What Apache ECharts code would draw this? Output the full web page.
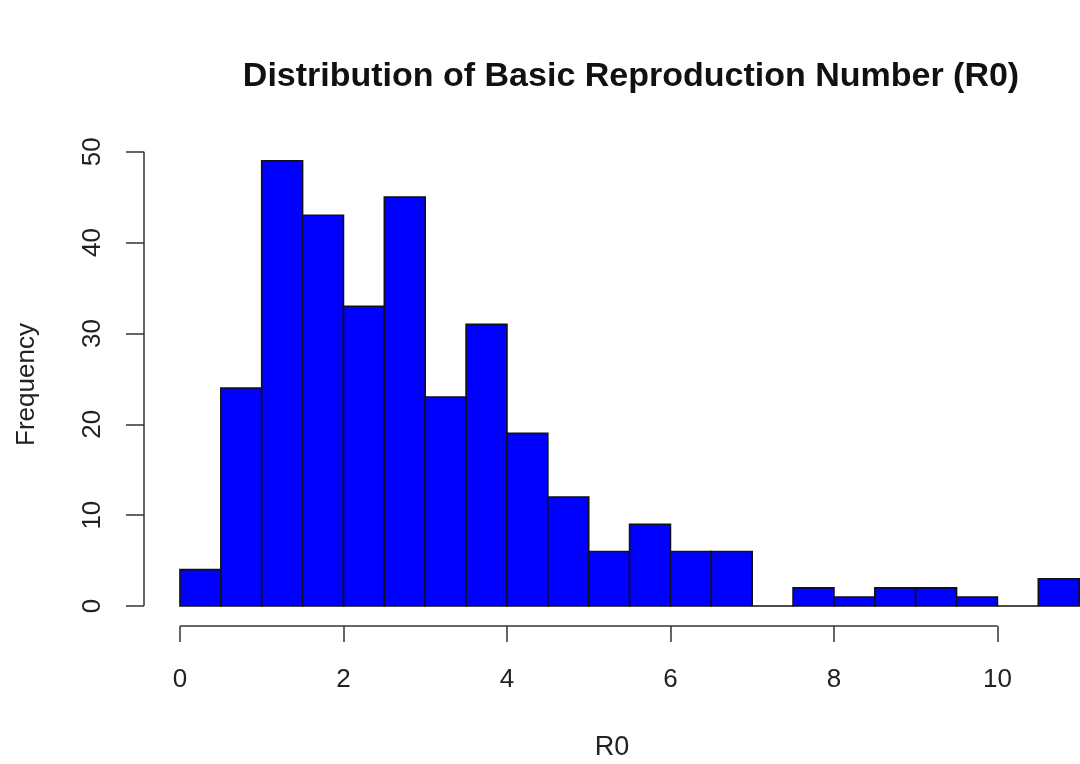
<!DOCTYPE html>
<html>
<head>
<meta charset="utf-8">
<script src="https://cdn.jsdelivr.net/npm/echarts@6/dist/echarts.min.js"></script>
<style>
html,body{margin:0;padding:0;background:#fff;}
#chart{width:1080px;height:764px;}
</style>
</head>
<body>
<div id="chart"></div>
<script>
// Histogram bin edges (R0) and counts
const binStarts = [0, 0.5, 1, 1.5, 2, 2.5, 3, 3.5, 4, 4.5, 5, 5.5, 6, 6.5, 7, 7.5, 8, 8.5, 9, 9.5, 10, 10.5];
const binEnds   = [0.5, 1, 1.5, 2, 2.5, 3, 3.5, 4, 4.5, 5, 5.5, 6, 6.5, 7, 7.5, 8, 8.5, 9, 9.5, 10, 10.5, 11];
const counts    = [4, 24, 49, 43, 33, 45, 23, 31, 19, 12, 6, 9, 6, 6, 0, 2, 1, 2, 2, 1, 0, 3];
const xTicks = [0, 2, 4, 6, 8, 10];
const yTicks = [0, 10, 20, 30, 40, 50];
const titleText = 'Distribution of Basic Reproduction Number (R0)';
const xName = 'R0';
const yName = 'Frequency';

const binData = binStarts.map((s, i) => [s, binEnds[i], counts[i]]);

const FONT = '"Liberation Sans", Arial, sans-serif';
const AXIS_COLOR = '#333';
const TEXT_COLOR = '#222';

const chart = echarts.init(document.getElementById('chart'), null, {renderer: 'canvas'});
chart.setOption({
  backgroundColor: '#fff',
  animation: false,
  title: {
    text: titleText,
    left: 626,
    top: 55,
    textAlign: 'center',
    textStyle: {fontFamily: FONT, fontSize: 34, fontWeight: 'bold', color: '#111'}
  },
  grid: {left: 144, top: 143, right: 0, height: 483, containLabel: false, outerBoundsMode: 'none'},
  xAxis: {
    type: 'value',
    min: -0.44,
    max: 11.01,
    name: xName,
    nameLocation: 'middle',
    nameGap: 108,
    nameTextStyle: {fontFamily: FONT, fontSize: 27, color: TEXT_COLOR},
    axisLine: {show: false, onZero: false},
    axisTick: {show: true, length: 16, customValues: xTicks, lineStyle: {color: AXIS_COLOR, width: 1.5}},
    axisLabel: {customValues: xTicks, margin: 41, fontFamily: FONT, fontSize: 26, color: TEXT_COLOR},
    splitLine: {show: false}
  },
  yAxis: {
    type: 'value',
    min: -2.2,
    max: 50.96,
    name: yName,
    nameLocation: 'middle',
    nameRotate: 90,
    nameGap: 104,
    nameTextStyle: {fontFamily: FONT, fontSize: 26, color: TEXT_COLOR},
    axisLine: {show: false, onZero: false},
    axisTick: {show: true, length: 18, customValues: yTicks, lineStyle: {color: AXIS_COLOR, width: 1.5}},
    axisLabel: {customValues: yTicks, rotate: 90, margin: 38, fontFamily: FONT, fontSize: 26, color: TEXT_COLOR},
    splitLine: {show: false}
  },
  series: [
    {
      type: 'custom',
      name: 'bins',
      data: binData,
      encode: {x: [0, 1], y: 2},
      clip: false,
      renderItem: function (params, api) {
        const x0 = api.value(0), x1 = api.value(1), c = api.value(2);
        const pTop = api.coord([x0, c]);
        const pBot = api.coord([x1, 0]);
        return {
          type: 'rect',
          shape: {x: pTop[0], y: pTop[1], width: pBot[0] - pTop[0], height: pBot[1] - pTop[1]},
          style: {fill: '#0000ff', stroke: '#111', lineWidth: 1.6}
        };
      }
    },
    {
      type: 'custom',
      name: 'axes',
      data: [[xTicks[0], xTicks[xTicks.length - 1], yTicks[0], yTicks[yTicks.length - 1]]],
      clip: false,
      silent: true,
      renderItem: function (params, api) {
        const cs = params.coordSys;
        const bottom = cs.y + cs.height;
        const left = cs.x;
        const xa = api.coord([api.value(0), 0])[0];
        const xb = api.coord([api.value(1), 0])[0];
        const ya = api.coord([0, api.value(2)])[1];
        const yb = api.coord([0, api.value(3)])[1];
        return {
          type: 'group',
          children: [
            {type: 'line', shape: {x1: xa, y1: bottom, x2: xb, y2: bottom}, style: {stroke: AXIS_COLOR, lineWidth: 1.5}},
            {type: 'line', shape: {x1: left, y1: ya, x2: left, y2: yb}, style: {stroke: AXIS_COLOR, lineWidth: 1.5}}
          ]
        };
      }
    }
  ]
});
</script>
</body>
</html>
